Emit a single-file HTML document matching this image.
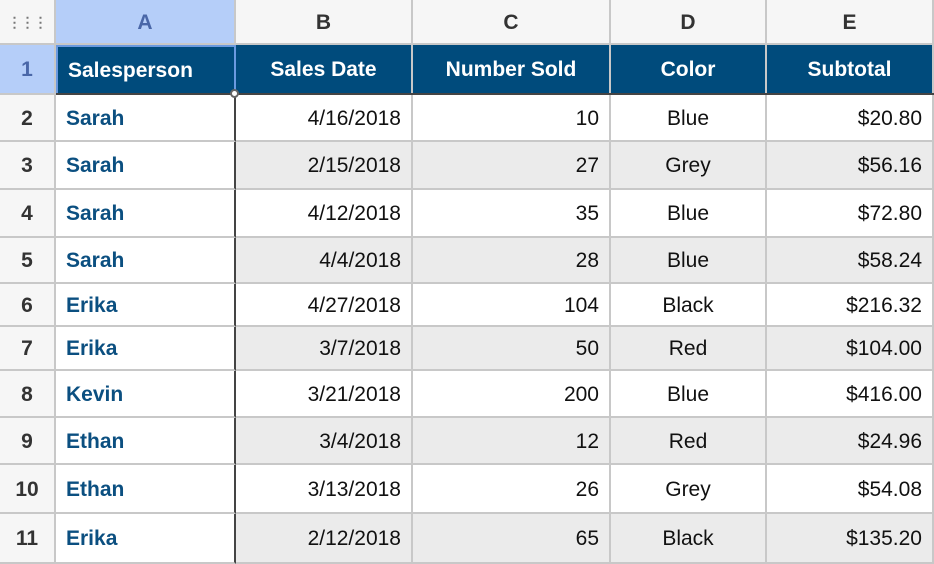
<!DOCTYPE html><html><head><style>
body{margin:0;width:934px;height:564px;background:#fff;font-family:"Liberation Sans",Arial,sans-serif;overflow:hidden;position:relative}
.c{position:absolute;box-sizing:border-box;display:flex;align-items:center;font-size:21px;color:#111;border-right:2px solid #c8c8c8;border-bottom:2px solid #c8c8c8;padding:2px 10px 0 10px}
.h{background:#f6f6f6;color:#333;font-weight:bold;justify-content:center;font-size:21px}
.t{background:#004b7c;color:#fff;font-weight:bold;justify-content:center}
.n{font-weight:bold;color:#0b4f80}
.r{justify-content:flex-end}.m{justify-content:center}
.g{background:#ebebeb}
</style></head><body>
<div id="w"></div>
<script>
var X=[0,56,236,413,611,767,934];
var Y=[0,45,95,142,190,238,284,327,371,418,465,514,564];
var data=[["Sarah","4/16/2018","10","Blue","$20.80"],["Sarah","2/15/2018","27","Grey","$56.16"],["Sarah","4/12/2018","35","Blue","$72.80"],["Sarah","4/4/2018","28","Blue","$58.24"],["Erika","4/27/2018","104","Black","$216.32"],["Erika","3/7/2018","50","Red","$104.00"],["Kevin","3/21/2018","200","Blue","$416.00"],["Ethan","3/4/2018","12","Red","$24.96"],["Ethan","3/13/2018","26","Grey","$54.08"],["Erika","2/12/2018","65","Black","$135.20"]];
var hdr=["Salesperson","Sales Date","Number Sold","Color","Subtotal"];
var h="";
function cell(c,r,cls,txt,st){h+='<div class="c '+cls+'" style="left:'+X[c]+'px;top:'+Y[r]+'px;width:'+(X[c+1]-X[c])+'px;height:'+(Y[r+1]-Y[r])+'px;'+(st||'')+'">'+txt+'</div>';}
cell(0,0,"h",'<span style="color:#777;font-size:14px;letter-spacing:-1px">⋮⋮⋮</span>');
"ABCDE".split("").forEach(function(l,i){cell(i+1,0,"h",l,i==0?"background:#b5cef9;color:#4a67a8;":"");});
for(var r=1;r<=11;r++){cell(0,r,"h",r,r==1?"background:#b5cef9;color:#4a67a8;":"");}
hdr.forEach(function(t,i){cell(i+1,1,"t",t,i==0?"justify-content:flex-start;border:2px solid #6a9ae0;":"");});
data.forEach(function(d,k){var r=k+2,g=(k%2==1)?" g":"";
cell(1,r,"n",d[0],"border-right:2px solid #444;");
cell(2,r,"r"+g,d[1]);cell(3,r,"r"+g,d[2]);cell(4,r,"m"+g,d[3]);cell(5,r,"r"+g,d[4]);});
h+='<div style="position:absolute;left:56px;top:93px;width:878px;height:2px;background:#444"></div>';
h+='<div style="position:absolute;left:230px;top:89px;width:9px;height:9px;border-radius:50%;background:#fff;border:2px solid #666;box-sizing:border-box"></div>';
document.getElementById("w").innerHTML=h;
</script>
</body></html>
